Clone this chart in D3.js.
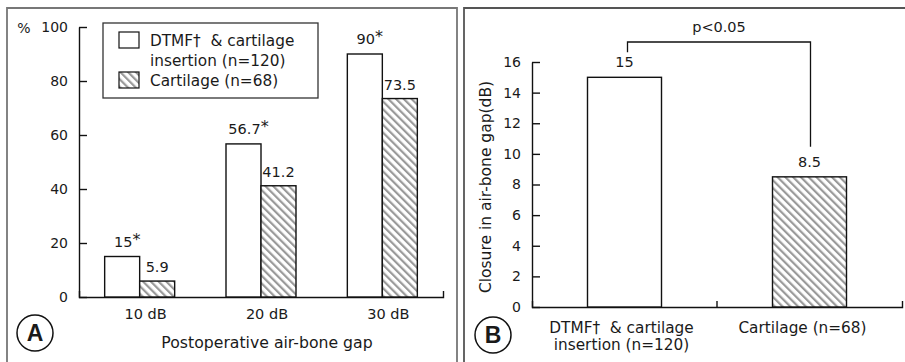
<!DOCTYPE html>
<html><head><meta charset="utf-8">
<script src="https://cdn.jsdelivr.net/npm/d3@7"></script>
<style>
body{margin:0;background:#fff}
svg{display:block;font-family:"DejaVu Sans",sans-serif;fill:#1a1a1a}
</style>
</head><body>
<svg id="chart" width="905" height="362"></svg>
<script>
// ---- data ----
const gapCategories = ["10 dB", "20 dB", "30 dB"];
const dtmfPercent = [15, 56.7, 90];
const cartilagePercent = [5.9, 41.2, 73.5];
const dtmfStars = [true, true, true];
const percentTicks = [0, 20, 40, 60, 80, 100];
const legendLabels = [["DTMF\u2020  & cartilage", "insertion (n=120)"], ["Cartilage (n=68)"]];

const closureGroups = ["DTMF", "Cartilage"];
const closureGroupLabels = [["DTMF\u2020  & cartilage", "insertion (n=120)"], ["Cartilage (n=68)"]];
const closureValues = [15, 8.5];
const closureTicks = [0, 2, 4, 6, 8, 10, 12, 14, 16];
const pValueText = "p<0.05";

const svg = d3.select("#chart");
const defs = svg.append("defs");
const pat = defs.append("pattern").attr("id", "hatch")
  .attr("patternUnits", "userSpaceOnUse").attr("width", 5.5).attr("height", 5.5)
  .attr("patternTransform", "rotate(-45)");
pat.append("rect").attr("width", 5.5).attr("height", 5.5).attr("fill", "#fff");
pat.append("rect").attr("width", 2.2).attr("height", 5.5).attr("fill", "#999");

// ---- frames ----
const frame = svg.append("g").attr("fill", "none");
frame.append("path").attr("d", "M7,370V8H457V370").attr("stroke", "#777").attr("stroke-width", 1.8);
frame.append("path").attr("d", "M464,370V8H910").attr("stroke", "#555").attr("stroke-width", 1.8);

function styleAxis(g) {
  g.selectAll("path,line").attr("stroke", "#111").attr("stroke-width", 1.4);
  g.selectAll("text").attr("fill", "#1a1a1a").attr("font-size", 14)
    .attr("font-family", '"DejaVu Sans",sans-serif');
}

// ================= Panel A =================
const yA = d3.scaleLinear().domain([0, 100]).range([297, 27]);
const xA = d3.scaleBand().domain(gapCategories).range([79, 443]);
const bwA = 35;
const gA = svg.append("g");

gA.append("g").attr("transform", "translate(79,0)")
  .call(d3.axisLeft(yA).tickValues(percentTicks).tickSizeInner(-8).tickSizeOuter(0).tickPadding(11))
  .call(styleAxis);
gA.append("g").attr("transform", "translate(0,297)")
  .call(d3.axisBottom(xA).tickSize(0).tickSizeOuter(-6).tickPadding(12))
  .call(styleAxis)
  .call(g => g.selectAll(".tick text").attr("dx", 6).attr("font-size", 14.5));

gA.append("text").attr("x", 24).attr("y", 33).attr("text-anchor", "middle")
  .attr("font-size", 14).text("%");

// bars
gA.selectAll(".barD").data(gapCategories).join("rect")
  .attr("x", d => xA(d) + xA.bandwidth() / 2 - bwA)
  .attr("y", (d, i) => yA(dtmfPercent[i]))
  .attr("width", bwA).attr("height", (d, i) => yA(0) - yA(dtmfPercent[i]))
  .attr("fill", "#fff").attr("stroke", "#111").attr("stroke-width", 1.4);
gA.selectAll(".barC").data(gapCategories).join("rect")
  .attr("x", d => xA(d) + xA.bandwidth() / 2)
  .attr("y", (d, i) => yA(cartilagePercent[i]))
  .attr("width", bwA).attr("height", (d, i) => yA(0) - yA(cartilagePercent[i]))
  .attr("fill", "url(#hatch)").attr("stroke", "#111").attr("stroke-width", 1.4);

// value labels
const lblD = gA.selectAll(".lblD").data(gapCategories).join("text")
  .attr("x", d => xA(d) + xA.bandwidth() / 2 - bwA / 2 + 5)
  .attr("y", (d, i) => yA(dtmfPercent[i]) - 10)
  .attr("text-anchor", "middle").attr("font-size", 14.5);
lblD.append("tspan").text((d, i) => dtmfPercent[i]);
lblD.append("tspan").attr("dy", -2).attr("font-size", 16).text((d, i) => dtmfStars[i] ? "*" : "");
gA.selectAll(".lblC").data(gapCategories).join("text")
  .attr("x", d => xA(d) + xA.bandwidth() / 2 + bwA / 2)
  .attr("y", (d, i) => yA(cartilagePercent[i]) - 9)
  .attr("text-anchor", "middle").attr("font-size", 14.5)
  .text((d, i) => cartilagePercent[i]);

gA.append("text").attr("x", 267).attr("y", 348).attr("text-anchor", "middle")
  .attr("font-size", 15.7).text("Postoperative air-bone gap");

// legend
const leg = gA.append("g");
leg.append("rect").attr("x", 103).attr("y", 23).attr("width", 215).attr("height", 75)
  .attr("fill", "#fff").attr("stroke", "#333").attr("stroke-width", 1.3);
leg.append("rect").attr("x", 119).attr("y", 32).attr("width", 20).attr("height", 16)
  .attr("fill", "#fff").attr("stroke", "#111").attr("stroke-width", 1.2);
leg.append("rect").attr("x", 119).attr("y", 72).attr("width", 20).attr("height", 16)
  .attr("fill", "url(#hatch)").attr("stroke", "#111").attr("stroke-width", 1.2);
leg.append("text").attr("x", 150).attr("y", 45.5).attr("font-size", 15.3).attr("xml:space", "preserve").text(legendLabels[0][0]);
leg.append("text").attr("x", 150).attr("y", 65.5).attr("font-size", 15.3).text(legendLabels[0][1]);
leg.append("text").attr("x", 150).attr("y", 85.5).attr("font-size", 15.3).text(legendLabels[1][0]);

// ================= Panel B =================
const yB = d3.scaleLinear().domain([0, 16]).range([307, 62]);
const xB = d3.scaleBand().domain(closureGroups).range([532, 902]);
const bwB = 74;
const gB = svg.append("g");

gB.append("g").attr("transform", "translate(532,0)")
  .call(d3.axisLeft(yB).tickValues(closureTicks).tickSizeInner(-8).tickSizeOuter(0).tickPadding(11))
  .call(styleAxis);
gB.append("g").attr("transform", "translate(0,307)")
  .call(d3.axisBottom(xB).tickSize(0).tickSizeOuter(-6).tickFormat(""))
  .call(styleAxis);
// boundary tick between groups
gB.append("line").attr("x1", xB(closureGroups[1])).attr("x2", xB(closureGroups[1]))
  .attr("y1", yB(0)).attr("y2", yB(0) - 6).attr("stroke", "#111").attr("stroke-width", 1.4);

gB.selectAll(".barB").data(closureGroups).join("rect")
  .attr("x", d => xB(d) + xB.bandwidth() / 2 - bwB / 2)
  .attr("y", (d, i) => yB(closureValues[i]))
  .attr("width", bwB).attr("height", (d, i) => yB(0) - yB(closureValues[i]))
  .attr("fill", (d, i) => i === 0 ? "#fff" : "url(#hatch)")
  .attr("stroke", "#111").attr("stroke-width", 1.4);
gB.selectAll(".lblB").data(closureGroups).join("text")
  .attr("x", d => xB(d) + xB.bandwidth() / 2)
  .attr("y", (d, i) => yB(closureValues[i]) - 10)
  .attr("text-anchor", "middle").attr("font-size", 14.5)
  .text((d, i) => closureValues[i]);

// category labels
closureGroups.forEach((d, i) => {
  const t = gB.append("text").attr("text-anchor", "middle").attr("font-size", 15.3)
    .attr("xml:space", "preserve");
  closureGroupLabels[i].forEach((line, j) => {
    t.append("tspan").attr("x", xB(d) + xB.bandwidth() / 2 - (i === 0 ? 3 : 7))
      .attr("y", 333 + j * 17).text(line);
  });
});

// y title
gB.append("text").attr("transform", "translate(491,187) rotate(-90)")
  .attr("text-anchor", "middle").attr("font-size", 15.5).text("Closure in air-bone gap(dB)");

// significance bracket
const cx0 = xB(closureGroups[0]) + xB.bandwidth() / 2 + 3;
const cx1 = xB(closureGroups[1]) + xB.bandwidth() / 2 + 1;
const topY = yB(16) - 20;
gB.append("path")
  .attr("d", `M${cx0},${yB(closureValues[0]) - 25}V${topY}H${cx1}V${yB(closureValues[1]) - 30}`)
  .attr("fill", "none").attr("stroke", "#111").attr("stroke-width", 1.3);
gB.append("text").attr("x", (cx0 + cx1) / 2).attr("y", 32).attr("text-anchor", "middle")
  .attr("font-size", 14.5).text(pValueText);

// panel letters
[["A", 35, 333], ["B", 493, 335]].forEach(([l, cx, cy]) => {
  svg.append("circle").attr("cx", cx).attr("cy", cy).attr("r", 18)
    .attr("fill", "#fff").attr("stroke", "#111").attr("stroke-width", 1.5);
  svg.append("text").attr("x", cx).attr("y", cy + 8).attr("text-anchor", "middle")
    .attr("font-family", '"Liberation Sans",Arial,sans-serif').attr("font-weight", "bold")
    .attr("font-size", 23).text(l);
});
</script>
</body></html>
